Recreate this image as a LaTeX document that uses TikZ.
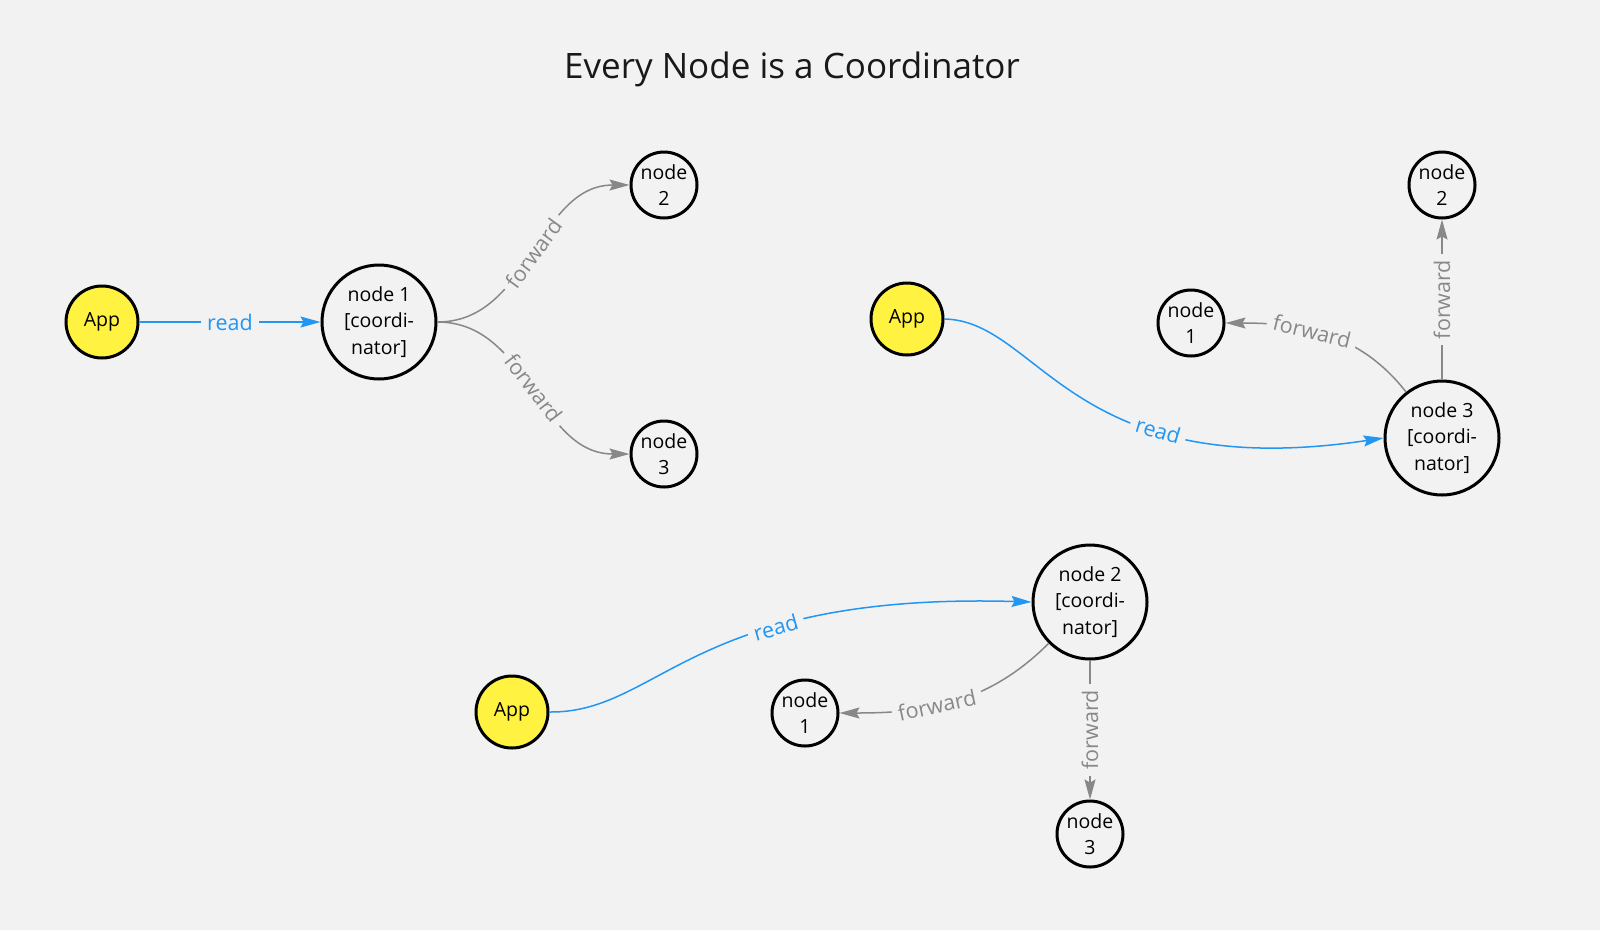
\documentclass[tikz,border=0pt]{standalone}
\usepackage{fontspec}
\setmainfont{Open Sans}
\usetikzlibrary{arrows.meta}
\definecolor{bgcol}{RGB}{242,242,242}
\definecolor{appyellow}{RGB}{255,242,64}
\definecolor{readblue}{RGB}{33,150,243}
\definecolor{fwdgray}{RGB}{136,136,136}

\begin{document}
\begin{tikzpicture}[x=1pt,y=1pt,
  peer/.style={circle,draw=black,line width=3pt,fill=bgcol,minimum size=66pt,
    inner sep=0pt,align=center,font=\fontsize{19.5}{26.5}\selectfont},
  app/.style={peer,fill=appyellow,minimum size=72pt},
  coord/.style={peer,minimum size=114pt},
  readarrow/.style={draw=readblue,line width=1.5pt,-{Stealth[length=20pt,width=11pt,inset=3pt]}},
  fwdarrow/.style={draw=fwdgray,line width=1.5pt,-{Stealth[length=20pt,width=11pt,inset=3pt]}},
  readlabel/.style={text=readblue,fill=bgcol,inner sep=6pt,font=\fontsize{21.5}{26}\selectfont},
  fwdlabel/.style={text=fwdgray,fill=bgcol,inner sep=6pt,font=\fontsize{21.5}{26}\selectfont}
]
  \useasboundingbox (0,0) rectangle (1600,-930);
  \fill[bgcol] (0,0) rectangle (1600,-930);
  \node[font=\fontsize{35}{42}\selectfont,text=black!90] (title) at (792,-69) {Every Node is a Coordinator};

  % node 1 as coordinator
  \node[app] (appA) at (102,-322) {App};
  \node[coord] (a1) at (379,-322) {node 1\\{[coordi-}\\nator]};
  \node[peer] (a2) at (664,-185) {node\\2};
  \node[peer] (a3) at (664,-454) {node\\3};
  \draw[readarrow] (appA) -- node[readlabel] {read} (a1);
  \draw[fwdarrow] (a1.east) to[out=0,in=180] node[fwdlabel,sloped] {forward} (a2.west);
  \draw[fwdarrow] (a1.east) to[out=0,in=180] node[fwdlabel,sloped] {forward} (a3.west);

  % node 3 as coordinator
  \node[app] (appB) at (907,-319) {App};
  \node[peer] (b1) at (1191,-323) {node\\1};
  \node[peer] (b2) at (1442,-185) {node\\2};
  \node[coord] (b3) at (1442,-438) {node 3\\{[coordi-}\\nator]};
  \draw[readarrow] (appB.east) .. controls (1040,-321) and (1070,-485) .. node[readlabel,sloped,pos=0.68] {read} (b3.west);
  \draw[fwdarrow] (b3.128) to[out=128,in=0] node[fwdlabel,sloped,pos=0.58] {forward} (b1.east);
  \draw[fwdarrow] (b3) -- node[fwdlabel,rotate=90] {forward} (b2);

  % node 2 as coordinator
  \node[app] (appC) at (512,-712) {App};
  \node[coord] (c2) at (1090,-602) {node 2\\{[coordi-}\\nator]};
  \node[peer] (c1) at (805,-713) {node\\1};
  \node[peer] (c3) at (1090,-834) {node\\3};
  \draw[readarrow] (appC.east) .. controls (660,-713) and (690,-592) .. node[readlabel,sloped,pos=0.66] {read} (c2.west);
  \draw[fwdarrow] (c2.225) to[out=225,in=0] node[fwdlabel,sloped,pos=0.58] {forward} (c1.east);
  \draw[fwdarrow] (c2) -- node[fwdlabel,rotate=90] {forward} (c3);
\end{tikzpicture}
\end{document}
